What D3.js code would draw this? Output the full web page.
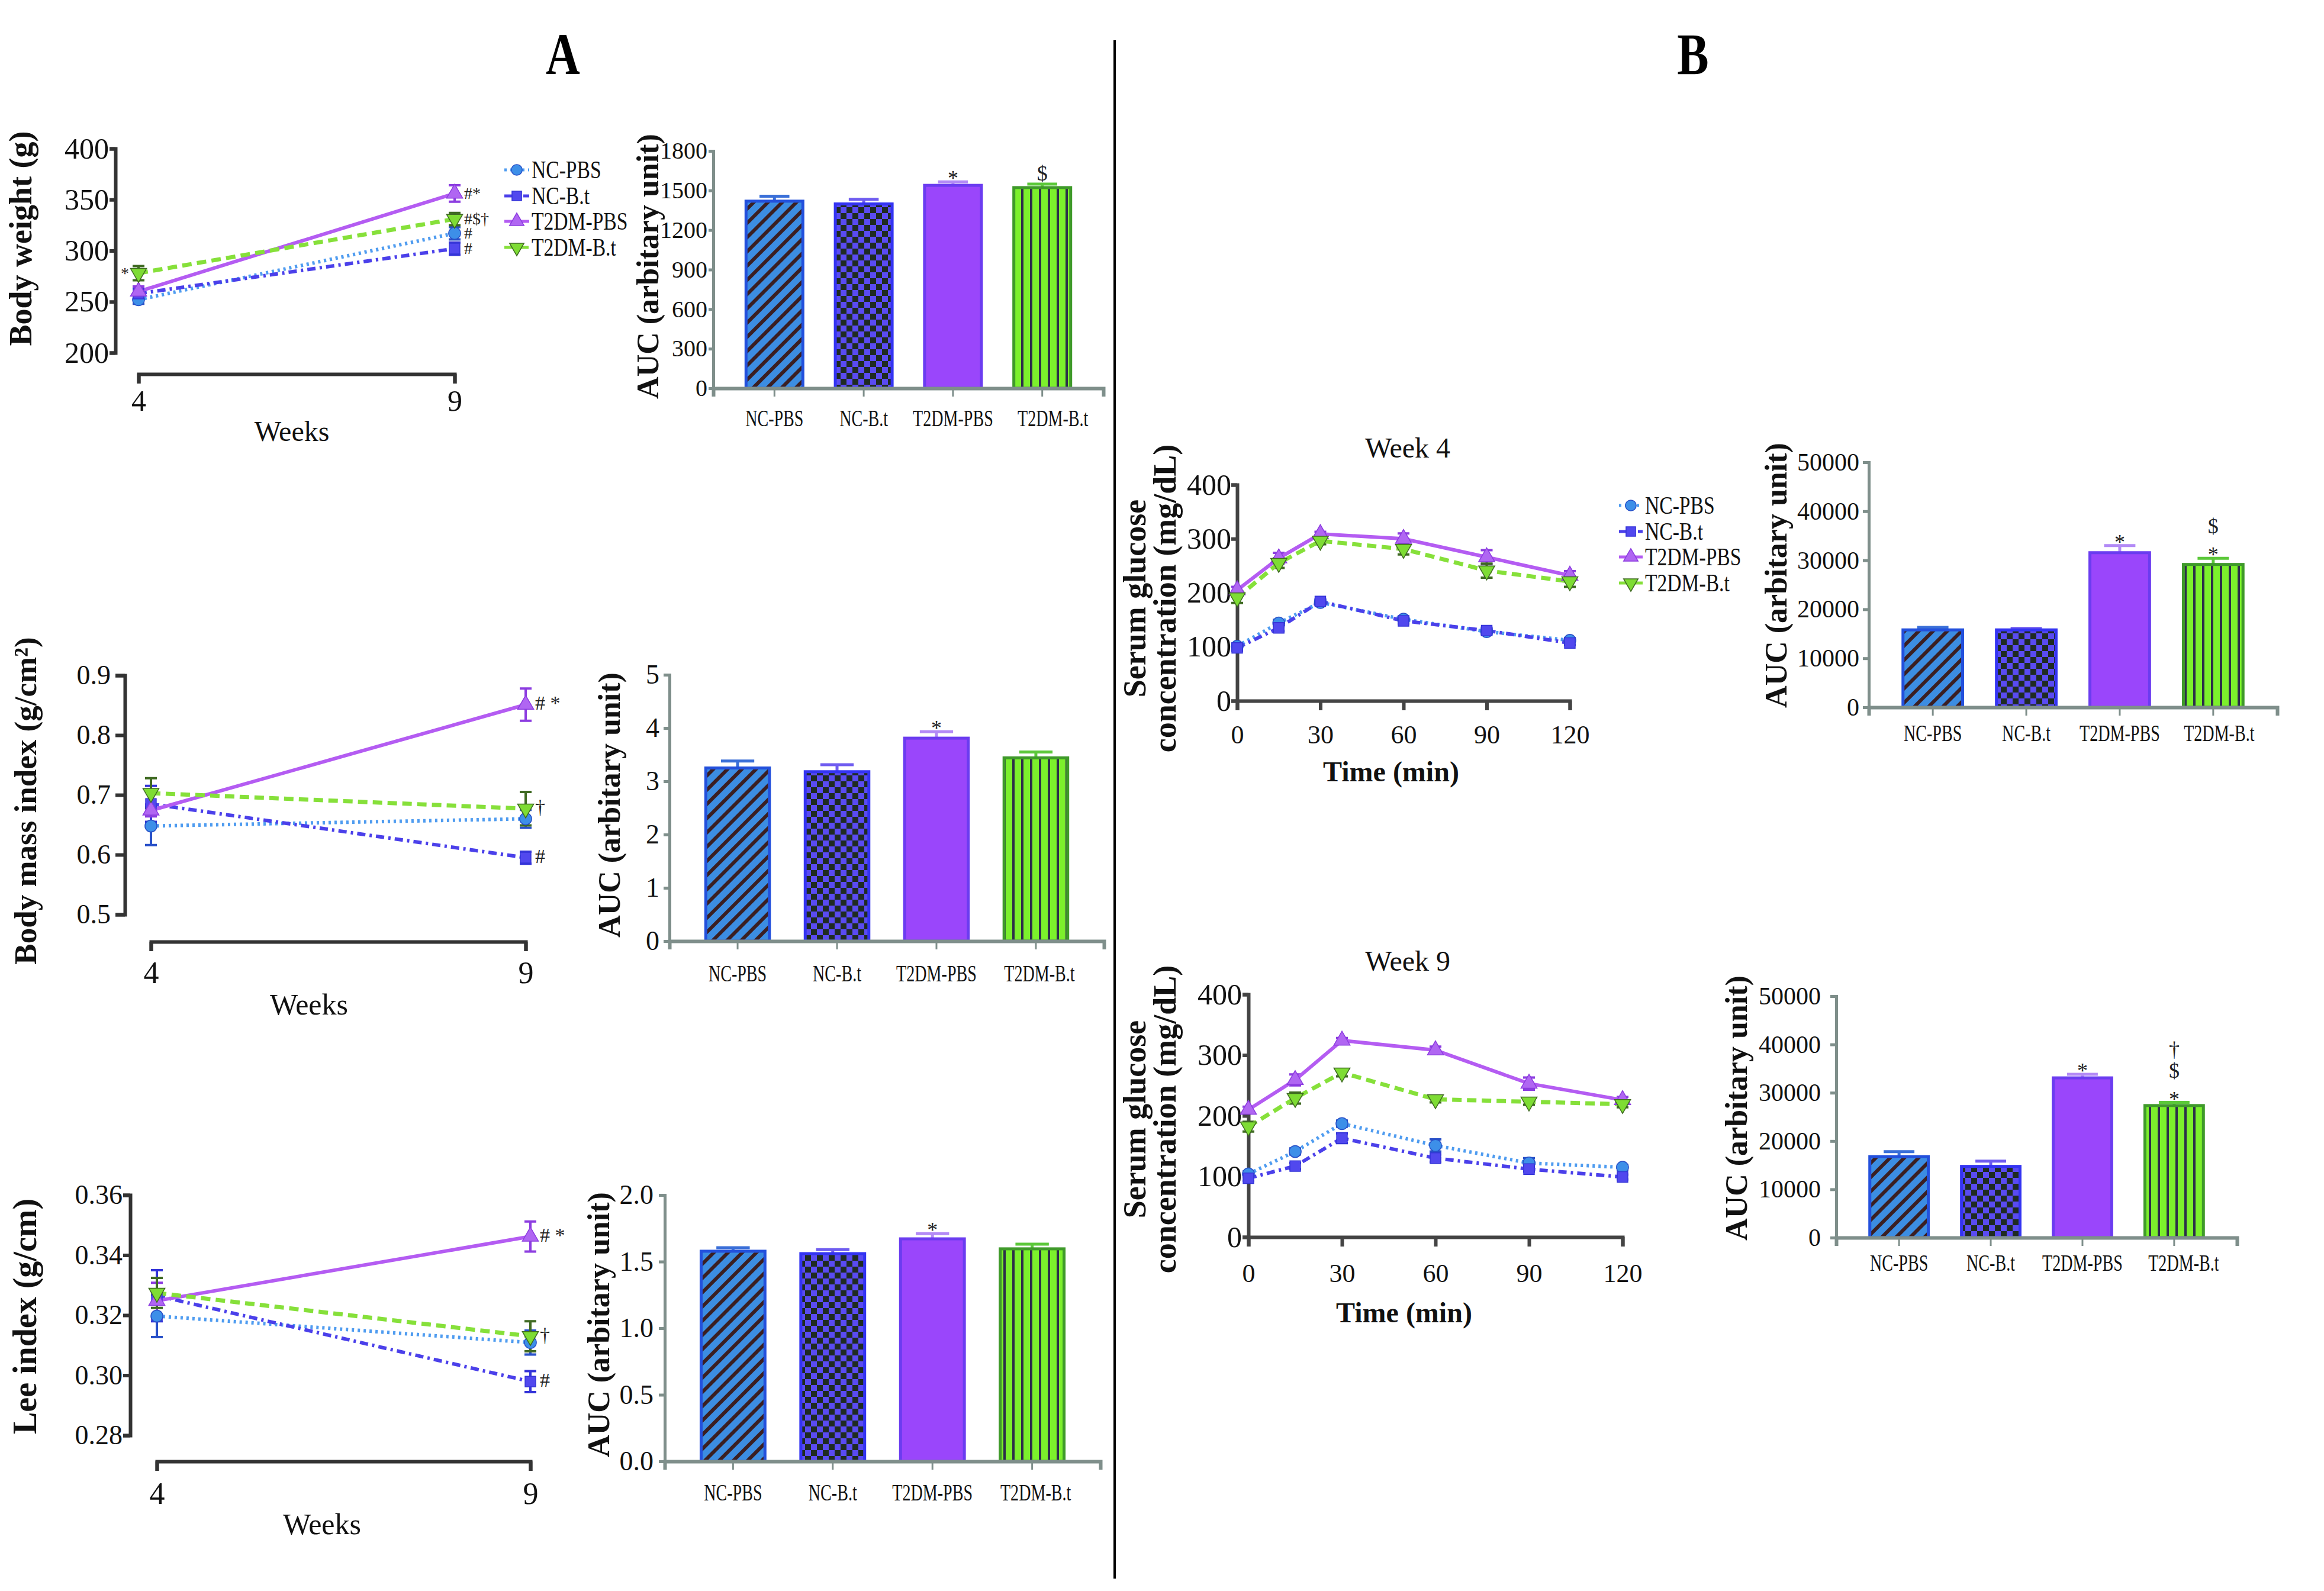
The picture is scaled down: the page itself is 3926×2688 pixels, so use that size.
<!DOCTYPE html>
<html>
<head>
<meta charset="utf-8">
<script src="https://cdn.jsdelivr.net/npm/d3@7"></script>
<style>
  body { margin: 0; background: #fff; }
</style>
</head>
<body>
<svg id="fig" width="3926" height="2688"></svg>
<script>
// ---- data ----
const groups = ['NC-PBS', 'NC-B.t', 'T2DM-PBS', 'T2DM-B.t'];
const weeks = [4, 9];
const minutes = [0, 15, 30, 60, 90, 120];

// weekly panels: one [week 4, week 9] pair per group
const bwMean = [[252, 317], [258, 302], [260, 356], [278, 331]];
const bwErr = [[4, 6], [5, 6], [5, 8], [7, 6]];
const bwMarks = [['', '#'], ['', '#'], ['', '#*'], ['*', '#$†']];

const bmiMean = [[0.648, 0.660], [0.685, 0.595], [0.674, 0.851], [0.703, 0.677]];
const bmiErr = [[0.032, 0.015], [0.03, 0.01], [0.01, 0.027], [0.025, 0.028]];
const bmiMarks = [['', ''], ['', '#'], ['', '# *'], ['', '†']];

const leeMean = [[0.3197, 0.3109], [0.3265, 0.2979], [0.3248, 0.3462], [0.3274, 0.313]];
const leeErr = [[0.007, 0.004], [0.0085, 0.0035], [0.006, 0.005], [0.005, 0.005]];
const leeMarks = [['', ''], ['', '#'], ['', '# *'], ['', '†']];

// glucose tolerance curves, one row per group
const gW4Mean = [
  [101, 144, 182, 151, 128, 112],
  [98, 135, 184, 148, 130, 107],
  [205, 264, 309, 300, 266, 232],
  [191, 255, 296, 281, 241, 221]
];
const gW4Err = [
  [5, 6, 4, 5, 5, 4],
  [5, 6, 4, 5, 5, 4],
  [6, 10, 4, 10, 13, 8],
  [10, 9, 6, 10, 13, 10]
];
const gW9Mean = [
  [104, 141, 187, 151, 122, 115],
  [97, 117, 163, 130, 112, 99],
  [210, 259, 324, 308, 253, 226],
  [182, 229, 271, 227, 223, 219]
];
const gW9Err = [
  [4, 5, 5, 10, 8, 4],
  [4, 5, 8, 6, 4, 4],
  [5, 9, 4, 6, 10, 5],
  [8, 9, 6, 5, 5, 5]
];

// AUC bars
const aucBw = [1419, 1398, 1539, 1522];
const aucBwErr = [38, 35, 26, 27];
const aucBwMarks = [[], [], ['*'], ['$']];
const aucBmi = [3.25, 3.18, 3.81, 3.44];
const aucBmiErr = [0.13, 0.13, 0.12, 0.11];
const aucBmiMarks = [[], [], ['*'], []];
const aucLee = [1.578, 1.56, 1.671, 1.596];
const aucLeeErr = [0.027, 0.03, 0.039, 0.035];
const aucLeeMarks = [[], [], ['*'], []];
const aucW4 = [15800, 15800, 31550, 29150];
const aucW4Err = [500, 300, 1450, 1250];
const aucW4Marks = [[], [], ['*'], ['*', '$']];
const aucW9 = [16780, 14750, 33080, 27350];
const aucW9Err = [1020, 1090, 750, 650];
const aucW9Marks = [[], [], ['*'], ['*', '$', '†']];

// ---- styling ----
const FONT = "'Liberation Serif', 'Times New Roman', serif";
const lineColor = ['#4f9cf0', '#4b40ea', '#b45cf2', '#86e03a'];
const markFill = ['#3d8fe8', '#5148ee', '#b066f2', '#7edc34'];
const errColor = ['#2850c8', '#3434d8', '#8c3ce0', '#3f6a22'];
const dashes = ['4,6', '14,7,4,7', null, '16,9'];
const symbols = [d3.symbolCircle, d3.symbolSquare, d3.symbolTriangle, d3.symbolTriangle];
const symRot = [0, 0, 0, 180];
const barFill = ['url(#pDiag)', 'url(#pCheck)', '#9a46fb', 'url(#pVert)'];
const barStroke = ['#2350dc', '#3434f2', '#6b3cf0', '#3f9a2a'];
const capColor = ['#3a6fd8', '#6f5cf0', '#b38af6', '#5cc83a'];

const svg = d3.select('#fig').attr('font-family', FONT);
const defs = svg.append('defs');

const pDiag = defs.append('pattern').attr('id', 'pDiag').attr('patternUnits', 'userSpaceOnUse')
    .attr('width', 17).attr('height', 17).attr('patternTransform', 'rotate(45)');
pDiag.append('rect').attr('width', 17).attr('height', 17).attr('fill', '#3c8de2');
pDiag.append('rect').attr('width', 6).attr('height', 17).attr('fill', '#3b1f22');

const pCheck = defs.append('pattern').attr('id', 'pCheck').attr('patternUnits', 'userSpaceOnUse')
    .attr('width', 20).attr('height', 20);
pCheck.append('rect').attr('width', 20).attr('height', 20).attr('fill', '#5a4bf2');
pCheck.append('rect').attr('width', 10).attr('height', 10).attr('fill', '#1f2b22');
pCheck.append('rect').attr('x', 10).attr('y', 10).attr('width', 10).attr('height', 10).attr('fill', '#1f2b22');

const pVert = defs.append('pattern').attr('id', 'pVert').attr('patternUnits', 'userSpaceOnUse')
    .attr('width', 15).attr('height', 15);
pVert.append('rect').attr('width', 15).attr('height', 15).attr('fill', '#7cf02c');
pVert.append('rect').attr('width', 4).attr('height', 15).attr('fill', '#2c2e4a');

// squeeze text horizontally to mimic the condensed face of the original
function condense(sel, f) {
  sel.each(function () {
    const w = this.getComputedTextLength();
    d3.select(this).attr('textLength', w * f).attr('lengthAdjust', 'spacingAndGlyphs');
  });
}

function styleAxis(g, color, width, fs) {
  g.attr('font-family', FONT).attr('font-size', fs);
  g.select('.domain').attr('stroke', color).attr('stroke-width', width);
  g.selectAll('.tick line').attr('stroke', color).attr('stroke-width', width);
  g.selectAll('.tick text').attr('fill', '#111');
}

function yTitle(lines, xs, cy, fs) {
  lines.forEach((t, k) => {
    svg.append('text')
        .attr('transform', `translate(${xs[k]},${cy}) rotate(-90)`)
        .attr('text-anchor', 'middle')
        .attr('font-weight', 'bold')
        .attr('font-size', fs)
        .attr('fill', '#111')
        .text(t);
  });
}

function drawMarker(g, cx, cy, i, size) {
  g.append('path')
      .attr('d', d3.symbol().type(symbols[i]).size(size)())
      .attr('transform', `translate(${cx},${cy}) rotate(${symRot[i]})`)
      .attr('fill', markFill[i])
      .attr('stroke', errColor[i])
      .attr('stroke-width', 1.5);
}

function linePanel(o) {
  const x = d3.scaleLinear().domain(o.xDomain).range(o.xRange);
  const y = d3.scaleLinear().domain(o.yDomain).range([o.yBottom, o.yTop]);
  const g = svg.append('g');

  const yAx = g.append('g').attr('transform', `translate(${o.axisX},0)`)
      .call(d3.axisLeft(y).tickValues(o.yTicks).tickFormat(d3.format(o.fmt))
        .tickSizeOuter(0).tickSize(o.yTick[0]).tickPadding(o.yTick[1]));
  styleAxis(yAx, o.axisColor, 6, o.yFont);

  const xAx = g.append('g').attr('transform', `translate(0,${o.xAxisY})`)
      .call(d3.axisBottom(x).tickValues(o.xTicks).tickFormat(d3.format('d'))
        .tickSizeOuter(0).tickSize(16).tickPadding(o.xPad));
  styleAxis(xAx, o.axisColor, 6, o.xFont);

  // error bars
  o.means.forEach((m, i) => {
    o.xs.forEach((t, j) => {
      const e = o.errs[i][j];
      const cx = x(t), yt = y(m[j] + e), yb = y(m[j] - e);
      g.append('path')
          .attr('d', `M${cx},${yt}V${yb}M${cx - 10},${yt}h20M${cx - 10},${yb}h20`)
          .attr('stroke', errColor[i]).attr('stroke-width', 4).attr('fill', 'none');
    });
  });

  // lines
  const line = d3.line().x(d => x(d[0])).y(d => y(d[1]));
  o.means.forEach((m, i) => {
    g.append('path')
        .attr('d', line(o.xs.map((t, j) => [t, m[j]])))
        .attr('fill', 'none')
        .attr('stroke', lineColor[i])
        .attr('stroke-width', i === 3 ? 7 : 6)
        .attr('stroke-dasharray', dashes[i]);
  });

  // markers
  o.means.forEach((m, i) => {
    o.xs.forEach((t, j) => drawMarker(g, x(t), y(m[j]), i, 320));
  });

  // significance marks next to the weekly points
  if (o.marks) {
    o.marks.forEach((mk, i) => {
      if (mk[0]) {
        g.append('text').attr('x', x(o.xs[0]) - 16).attr('y', y(o.means[i][0]) + 10)
            .attr('text-anchor', 'end').attr('font-size', o.markFont).attr('fill', '#222').text(mk[0]);
      }
      if (mk[1]) {
        g.append('text').attr('x', x(o.xs[1]) + 16).attr('y', y(o.means[i][1]) + 9)
            .attr('font-size', o.markFont).attr('fill', '#222').text(mk[1]);
      }
    });
  }

  if (o.xLabel) {
    g.append('text').attr('x', o.xLabel.x).attr('y', o.xLabel.y)
        .attr('text-anchor', 'middle').attr('font-size', o.xLabel.fs)
        .attr('font-weight', o.xLabel.bold ? 'bold' : 'normal')
        .attr('fill', '#111').text(o.xLabel.text);
  }
  if (o.title) {
    g.append('text').attr('x', o.title.x).attr('y', o.title.y)
        .attr('text-anchor', 'middle').attr('font-size', o.title.fs)
        .attr('fill', '#111').text(o.title.text);
  }
}

function barPanel(o) {
  const y = d3.scaleLinear().domain([0, o.max]).range([o.y0, o.y1]);
  const x = d3.scaleBand().domain(groups).range([o.ax, o.xEnd]).paddingInner(0.33).paddingOuter(0.35);
  const g = svg.append('g');

  // error caps (upper only)
  o.values.forEach((v, i) => {
    const cx = x(groups[i]) + x.bandwidth() / 2;
    const yt = y(v + o.errs[i]);
    const hw = x.bandwidth() * 0.25;
    g.append('path')
        .attr('d', `M${cx},${y(v)}V${yt}M${cx - hw},${yt}h${2 * hw}`)
        .attr('stroke', capColor[i]).attr('stroke-width', 5).attr('fill', 'none');
  });

  g.selectAll('rect.bar').data(o.values).join('rect')
      .attr('class', 'bar')
      .attr('x', (d, i) => x(groups[i]) + 2.5)
      .attr('width', x.bandwidth() - 5)
      .attr('y', d => y(d))
      .attr('height', d => y(0) - y(d))
      .attr('fill', (d, i) => barFill[i])
      .attr('stroke', (d, i) => barStroke[i])
      .attr('stroke-width', 5);

  const yAx = g.append('g').attr('transform', `translate(${o.ax},0)`)
      .call(d3.axisLeft(y).tickValues(o.ticks).tickFormat(d3.format(o.fmt))
        .tickSizeOuter(0).tickSize(o.yTick[0]).tickPadding(o.yTick[1]));
  styleAxis(yAx, '#7f8f8b', 5, o.yFont);

  const xAx = g.append('g').attr('transform', `translate(0,${o.y0})`)
      .call(d3.axisBottom(x).tickSizeOuter(0).tickSize(14).tickPadding(o.labPad));
  styleAxis(xAx, '#7f8f8b', 6, 39);
  xAx.selectAll('.tick line').attr('stroke-width', 3);
  condense(xAx.selectAll('.tick text'), 0.72);
  // the last label sits a little right of its bar in the original
  xAx.selectAll('.tick text').filter((d, i) => i === 3).attr('dx', o.lastShift || 6);

  // significance marks stacked above the error cap
  o.marks.forEach((mk, i) => {
    const cx = x(groups[i]) + x.bandwidth() / 2;
    const top = y(o.values[i] + o.errs[i]);
    mk.forEach((s, k) => {
      g.append('text').attr('x', cx).attr('y', top + (s === '*' ? 6 : -6) - k * 36)
          .attr('text-anchor', 'middle').attr('font-size', 36).attr('fill', '#222').text(s);
    });
  });
}

function legend(x0, rows, len, fs) {
  const g = svg.append('g');
  groups.forEach((name, i) => {
    const yy = rows[i];
    g.append('line').attr('x1', x0 - len / 2).attr('x2', x0 + len / 2)
        .attr('y1', yy).attr('y2', yy)
        .attr('stroke', lineColor[i]).attr('stroke-width', 5)
        .attr('stroke-dasharray', dashes[i]);
    drawMarker(g, x0, yy, i, 260);
    const t = g.append('text').attr('x', x0 + len / 2 + 4).attr('y', yy + fs * 0.33)
        .attr('font-size', fs).attr('fill', '#111').text(name);
    condense(t, 0.8);
  });
}

// ---- panel A ----
linePanel({
  xDomain: weeks, xRange: [234, 768], xs: weeks, xTicks: weeks,
  yDomain: [200, 400], yBottom: 596, yTop: 251, yTicks: [200, 250, 300, 350, 400], fmt: 'd',
  axisX: 195, xAxisY: 632, xPad: 10, yTick: [10, 1], yFont: 50, xFont: 50, axisColor: '#333',
  means: bwMean, errs: bwErr, marks: bwMarks, markFont: 28,
  xLabel: { text: 'Weeks', x: 493, y: 745, fs: 48 }
});
yTitle(['Body weight (g)'], [53], 403, 54);
legend(873, [287, 331, 374, 418], 42, 42);

barPanel({
  ax: 1205, xEnd: 1864, y0: 656, y1: 255, max: 1800, ticks: d3.range(0, 1801, 300), fmt: 'd',
  yTick: [8, 2], yFont: 40, labPad: 22, lastShift: 18,
  values: aucBw, errs: aucBwErr, marks: aucBwMarks
});
yTitle(['AUC (arbitary unit)'], [1112], 450, 52);

linePanel({
  xDomain: weeks, xRange: [255, 888], xs: weeks, xTicks: weeks,
  yDomain: [0.5, 0.9], yBottom: 1545, yTop: 1141, yTicks: [0.5, 0.6, 0.7, 0.8, 0.9], fmt: '.1f',
  axisX: 211, xAxisY: 1591, xPad: 17, yTick: [16, 8], yFont: 46, xFont: 52, axisColor: '#333',
  means: bmiMean, errs: bmiErr, marks: bmiMarks, markFont: 34,
  xLabel: { text: 'Weeks', x: 522, y: 1714, fs: 50 }
});
yTitle(['Body mass index (g/cm²)'], [61], 1353, 53);

barPanel({
  ax: 1131, xEnd: 1865, y0: 1590, y1: 1140, max: 5, ticks: [0, 1, 2, 3, 4, 5], fmt: 'd',
  yTick: [10, 7], yFont: 46, labPad: 26,
  values: aucBmi, errs: aucBmiErr, marks: aucBmiMarks
});
yTitle(['AUC (arbitary unit)'], [1047], 1360, 52);

linePanel({
  xDomain: weeks, xRange: [265, 896], xs: weeks, xTicks: weeks,
  yDomain: [0.28, 0.36], yBottom: 2425, yTop: 2019, yTicks: [0.28, 0.30, 0.32, 0.34, 0.36], fmt: '.2f',
  axisX: 220, xAxisY: 2469, xPad: 19, yTick: [12, 1], yFont: 46, xFont: 52, axisColor: '#333',
  means: leeMean, errs: leeErr, marks: leeMarks, markFont: 34,
  xLabel: { text: 'Weeks', x: 544, y: 2592, fs: 50 }
});
yTitle(['Lee index (g/cm)'], [61], 2224, 56);

barPanel({
  ax: 1123, xEnd: 1859, y0: 2469, y1: 2019, max: 2, ticks: [0, 0.5, 1, 1.5, 2], fmt: '.1f',
  yTick: [10, 9], yFont: 46, labPad: 24,
  values: aucLee, errs: aucLeeErr, marks: aucLeeMarks
});
yTitle(['AUC (arbitary unit)'], [1029], 2238, 52);

// ---- panel B ----
linePanel({
  xDomain: [0, 120], xRange: [2090, 2652], xs: minutes, xTicks: [0, 30, 60, 90, 120],
  yDomain: [0, 400], yBottom: 1184, yTop: 819, yTicks: [0, 100, 200, 300, 400], fmt: 'd',
  axisX: 2090, xAxisY: 1184, xPad: 25, yTick: [10, 0], yFont: 50, xFont: 44, axisColor: '#444',
  means: gW4Mean, errs: gW4Err,
  xLabel: { text: 'Time (min)', x: 2350, y: 1320, fs: 48, bold: true },
  title: { text: 'Week 4', x: 2378, y: 773, fs: 48 }
});
yTitle(['Serum glucose', 'concentration (mg/dL)'], [1935, 1986], 1011, 54);
legend(2755, [854, 898, 941, 985], 40, 42);

barPanel({
  ax: 3157, xEnd: 3847, y0: 1195, y1: 781, max: 50000, ticks: d3.range(0, 50001, 10000), fmt: 'd',
  yTick: [10, 6], yFont: 42, labPad: 15, lastShift: 10,
  values: aucW4, errs: aucW4Err, marks: aucW4Marks
});
yTitle(['AUC (arbitary unit)'], [3018], 972, 52);

linePanel({
  xDomain: [0, 120], xRange: [2109, 2741], xs: minutes, xTicks: [0, 30, 60, 90, 120],
  yDomain: [0, 400], yBottom: 2090, yTop: 1680, yTicks: [0, 100, 200, 300, 400], fmt: 'd',
  axisX: 2109, xAxisY: 2090, xPad: 29, yTick: [10, 1], yFont: 50, xFont: 44, axisColor: '#444',
  means: gW9Mean, errs: gW9Err,
  xLabel: { text: 'Time (min)', x: 2372, y: 2234, fs: 48, bold: true },
  title: { text: 'Week 9', x: 2378, y: 1640, fs: 48 }
});
yTitle(['Serum glucose', 'concentration (mg/dL)'], [1935, 1986], 1891, 54);

barPanel({
  ax: 3102, xEnd: 3779, y0: 2091, y1: 1683, max: 50000, ticks: d3.range(0, 50001, 10000), fmt: 'd',
  yTick: [10, 16], yFont: 42, labPad: 14, lastShift: 16,
  values: aucW9, errs: aucW9Err, marks: aucW9Marks
});
yTitle(['AUC (arbitary unit)'], [2951], 1872, 52);

// panel letters and divider
['A', 'B'].forEach((l, k) => {
  const t = svg.append('text').attr('x', [951, 2860][k]).attr('y', 125)
      .attr('text-anchor', 'middle').attr('font-size', 100).attr('font-weight', 'bold')
      .attr('fill', '#000').text(l);
  condense(t, 0.8);
});
svg.append('line').attr('x1', 1883).attr('x2', 1883).attr('y1', 68).attr('y2', 2667)
    .attr('stroke', '#000').attr('stroke-width', 4);
</script>
</body>
</html>
